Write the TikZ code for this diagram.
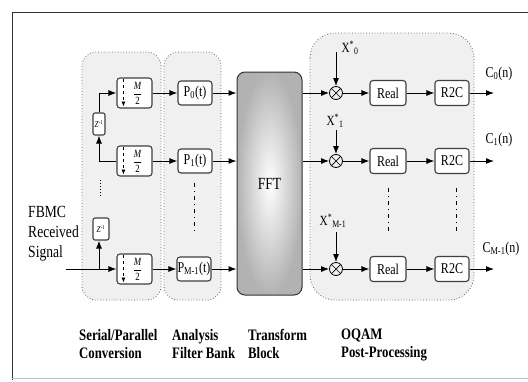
\documentclass[tikz,border=0pt]{standalone}
\usepackage{fontspec}
\setmainfont[FakeStretch=0.8]{Liberation Serif}
\usetikzlibrary{arrows.meta}
\begin{document}
\begin{tikzpicture}[x=1pt,y=-1pt,
  >={Latex[length=8pt,width=6pt]},
  conn/.style={->,line width=1pt},
  plain/.style={line width=1pt},
  blk/.style={draw=black!75,line width=1.1pt,rounded corners=3pt,fill=white,inner sep=0pt,font=\fontsize{15}{16}\selectfont},
  zbox/.style={blk,rounded corners=2pt,minimum height=22pt,font=\fontsize{9}{10}\selectfont},
  dsbox/.style={blk,minimum width=35pt,minimum height=30pt},
  pbox/.style={blk,minimum width=34pt,minimum height=24pt},
  rbox/.style={blk,minimum width=36pt,minimum height=25pt},
  grp/.style={draw=black!60,dotted,line width=0.8pt,fill=black!6,rounded corners=14pt},
  mul/.style={draw,circle,minimum size=13pt,inner sep=0pt,line width=0.8pt},
  lab/.style={font=\fontsize{15}{16}\selectfont,inner sep=0pt},
  xlab/.style={font=\fontsize{14}{15}\selectfont,inner sep=0pt},
  capt/.style={font=\bfseries\fontsize{16}{18}\selectfont,align=left,anchor=north west,inner sep=0pt},
  vdots/.style={line width=0.8pt,dash pattern=on 4pt off 4pt on 1pt off 4pt},
  frac/.style={inner sep=0pt,font=\fontsize{11}{12}\selectfont},
]
\useasboundingbox (0,0) rectangle (528,381);
\fill[white] (0,0) rectangle (528,381);
% frame
\draw[black!80,line width=1pt] (12,380) -- (12,12) -- (528,12);
\draw[black!25,line width=0.8pt] (12,378) -- (528,378);

% groups
\path[grp] (82,52) rectangle (161,300);
\path[grp] (164,52) rectangle (221,300);
\path[grp,rounded corners=25pt] (310,33) rectangle (474,300);

% FFT
\node[draw=black!80,line width=1pt,rounded corners=8pt,inner color=white,outer color=black!30,
      minimum width=65pt,minimum height=223pt,font=\fontsize{17}{18}\selectfont] (fft) at (269.5,183.5) {FFT};

% downsamplers
\foreach \n/\y in {0/93,1/161,2/269}{
  \node[dsbox] (d\n) at (134.5,\y) {};
  \draw[line width=0.8pt,dashed,-{Latex[length=5pt,width=4pt]}] ([xshift=7pt,yshift=-2pt]d\n.north west) -- ([xshift=7pt,yshift=2pt]d\n.south west);
  \node[frac] (f\n) at ([xshift=21pt]d\n.west) {$\displaystyle\frac{\mbox{\itshape M}}{\mbox{2}}$};
}

% delays
\node[zbox,minimum width=12pt] (z0) at (99,124) {\textit{Z}\textsuperscript{-1}};
\node[zbox,minimum width=16pt] (z1) at (101,229) {\textit{Z}\textsuperscript{-1}};

% filters
\node[pbox] (p0) at (195,93) {P\textsubscript{0}(t)};
\node[pbox] (p1) at (195,161) {P\textsubscript{1}(t)};
\node[pbox] (p2) at (194,269) {P\textsubscript{M-1}(t)};

% input
\node[font=\fontsize{17}{20}\selectfont,align=left,anchor=north west,inner sep=0pt] (sig) at (28,206) {FBMC\\Received\\Signal};
\coordinate (in) at (66,269);
\coordinate (j2) at (99,269);
\coordinate (j1) at (99,161);
\draw[conn] (in) -- (d2.west);
\draw[conn] (j2) -- (j2 |- z1.south);
\draw[plain] (j1) -- (d1.west);
\draw[conn] (j1) -- (z0.south);
\draw[conn] (z0.north) |- (d0.west);

% dots
\draw[dotted,line width=1pt] (100,180) -- (100,197);
\draw[vdots] (194,183) -- (194,233);
\draw[vdots] (388,188) -- (388,233);
\draw[vdots] (456,188) -- (456,233);

% d -> p -> fft
\foreach \n in {0,1,2}{
  \draw[conn] (d\n.east) -- (p\n.west);
  \draw[conn] (p\n.east) -- (p\n.east -| fft.west);
}

% OQAM
\foreach \n/\y in {0/93,1/161,2/269}{
  \node[mul] (m\n) at (336,\y) {};
  \draw[line width=0.7pt] (m\n.north east) -- (m\n.south west) (m\n.north west) -- (m\n.south east);
  \node[rbox] (re\n) at (388,\y) {Real};
  \node[rbox,minimum width=34pt] (rc\n) at (452,\y) {R2C};
  \coordinate (o\n) at (494,\y);
  \draw[conn] (m\n.west -| fft.east) -- (m\n.west);
  \draw[conn] (m\n.east) -- (re\n.west);
  \draw[conn] (re\n.east) -- (rc\n.west);
  \draw[conn] (rc\n.east) -- (o\n);
}
\node[xlab] (x0) at (350,48) {X\textsuperscript{*}\textsubscript{0}};
\node[xlab] (x1) at (335,121) {X\textsuperscript{*}\textsubscript{1}};
\node[xlab] (x2) at (333,221) {X\textsuperscript{*}\textsubscript{M-1}};
\coordinate (xs0) at (336,52);
\coordinate (xs1) at (336,130);
\coordinate (xs2) at (336,232);
\draw[conn] (xs0) -- (m0.north);
\draw[conn] (xs1) -- (m1.north);
\draw[conn] (xs2) -- (m2.north);

\node[lab,anchor=south] (c0) at (499,81) {C\textsubscript{0}(n)};
\node[lab,anchor=south] (c1) at (499,147) {C\textsubscript{1}(n)};
\node[lab,anchor=south] (c2) at (501,256) {C\textsubscript{M-1}(n)};

% captions
\node[capt] (cap1) at (79,329) {Serial/Parallel\\Conversion};
\node[capt] (cap2) at (172,329) {Analysis\\Filter Bank};
\node[capt] (cap3) at (248,329) {Transform\\Block};
\node[capt] (cap4) at (341,329) {OQAM\\Post-Processing};
\end{tikzpicture}
\end{document}
